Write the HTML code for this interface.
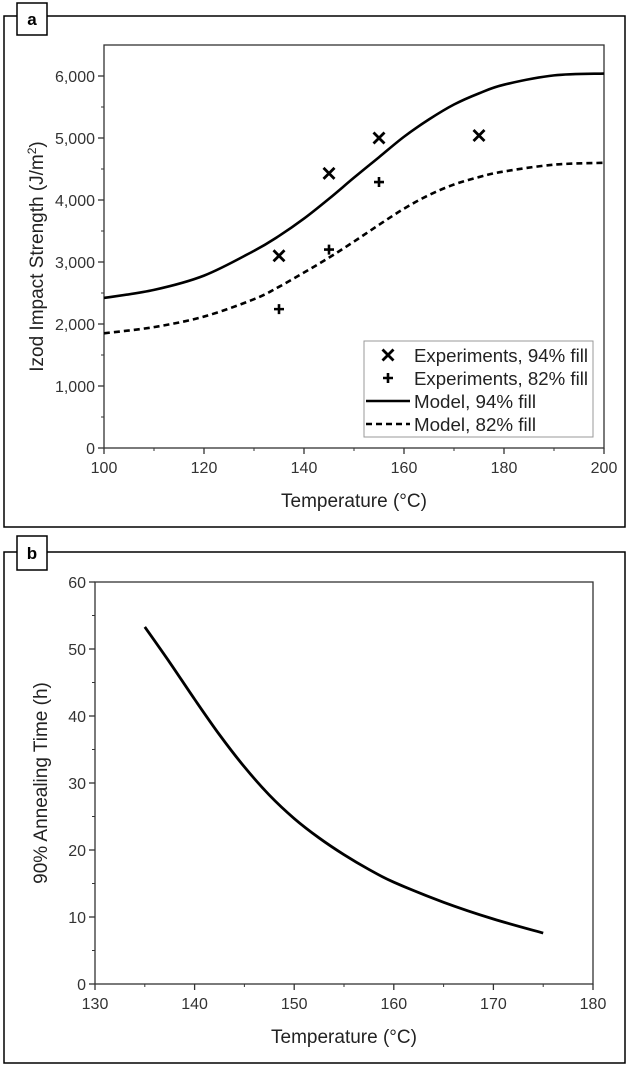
<!DOCTYPE html>
<html><head><meta charset="utf-8"><style>
body{margin:0;background:#fff;}
svg{display:block;font-family:"Liberation Sans",Arial,sans-serif;}
</style></head><body>
<svg width="629" height="1066" viewBox="0 0 629 1066">
<g id="pa"></g>
<g id="pb"></g>
</svg>
<script>
const aX=[100,110,120,130,135,140,145,150,155,160,165,170,175,180,190,200];
const aSolid=[2420,2550,2780,3180,3420,3700,4020,4360,4690,5020,5300,5540,5720,5860,6010,6040];
const aDash=[1850,1950,2120,2400,2600,2830,3070,3330,3600,3860,4080,4250,4370,4460,4570,4600];
const exp94X=[135,145,155,175];
const exp94Y=[3100,4430,5000,5040];
const exp82X=[135,145,155];
const exp82Y=[2240,3200,4290];
const aXTicks=[100,120,140,160,180,200];
const aYTicks=[0,1000,2000,3000,4000,5000,6000];
const aYLabels=["0","1,000","2,000","3,000","4,000","5,000","6,000"];
const bX=[135,137.5,140,142.5,145,147.5,150,152.5,155,157.5,160,165,170,175];
const bY=[53.3,48,42.5,37.2,32.4,28.2,24.7,21.8,19.3,17.1,15.2,12.2,9.7,7.6];
const bXTicks=[130,140,150,160,170,180];
const bYTicks=[0,10,20,30,40,50,60];

const NS="http://www.w3.org/2000/svg";
function mk(p,t,a,txt){const e=document.createElementNS(NS,t);for(const k in a)e.setAttribute(k,a[k]);if(txt!==undefined)e.textContent=txt;p.appendChild(e);return e;}
function smooth(pts){let d="M"+pts[0][0]+","+pts[0][1];for(let i=0;i<pts.length-1;i++){const p0=pts[i-1]||pts[i],p1=pts[i],p2=pts[i+1],p3=pts[i+2]||p2;const c1=[p1[0]+(p2[0]-p0[0])/6,p1[1]+(p2[1]-p0[1])/6],c2=[p2[0]-(p3[0]-p1[0])/6,p2[1]-(p3[1]-p1[1])/6];d+=" C"+c1+" "+c2+" "+p2;}return d;}

function frame(g,box,lab,labBox){
 const o=mk(g,'rect',{x:box[0],y:box[1],width:box[2],height:box[3],fill:'none',stroke:'#000','stroke-width':1.5});
 
 const r=mk(g,'rect',{x:labBox[0],y:labBox[1],width:labBox[2],height:labBox[3],fill:'#fff',stroke:'#000','stroke-width':1.5});
 
 const t=mk(g,'text',{x:labBox[0]+labBox[2]/2,y:labBox[1]+labBox[3]/2+6,'text-anchor':'middle','font-size':17,'font-weight':'bold'},lab);
 
}
function axes(g,L,R,T,B,xs,ys,xt,yt,ylab,xminor,yminor){
 const pr=mk(g,'rect',{x:L,y:T,width:R-L,height:B-T,fill:'none',stroke:'#333','stroke-width':1.3});
 
 xminor.forEach(v=>{const l=mk(g,'line',{x1:xs(v),x2:xs(v),y1:B,y2:B+3,stroke:'#333'});});
 yminor.forEach(v=>{const l=mk(g,'line',{x1:L-3,x2:L,y1:ys(v),y2:ys(v),stroke:'#333'});});
 xt.forEach(v=>{const l=mk(g,'line',{x1:xs(v),x2:xs(v),y1:B,y2:B+6,stroke:'#333','stroke-width':1.3});
  const t=mk(g,'text',{x:xs(v),y:B+25,'text-anchor':'middle','font-size':16,fill:'#333'},String(v));});
 yt.forEach((v,i)=>{const l=mk(g,'line',{x1:L-6,x2:L,y1:ys(v),y2:ys(v),stroke:'#333','stroke-width':1.3});
  const t=mk(g,'text',{x:L-9,y:ys(v)+6,'text-anchor':'end','font-size':16,fill:'#333'},ylab?ylab[i]:String(v));});
 const xt2=mk(g,'text',{x:(L+R)/2,y:B+59,'text-anchor':'middle','font-size':19,fill:'#222'},'Temperature (°C)');
 
}

// Panel A
const ga=document.getElementById('pa');
frame(ga,[4,16,621,511],'a',[17,3,30,32]);
const aL=104,aR=604,aT=45,aB=448;
const axs=v=>aL+(v-100)/100*(aR-aL), ays=v=>aB-v/6500*(aB-aT);
const xm=[];for(let v=110;v<200;v+=20)xm.push(v);
const ym=[];for(let v=500;v<6500;v+=1000)ym.push(v);
axes(ga,aL,aR,aT,aB,axs,ays,aXTicks,aYTicks,aYLabels,xm,ym);
const yta=mk(ga,'text',{transform:'translate(43,'+((aT+aB)/2+10)+') rotate(-90)','text-anchor':'middle','font-size':19,fill:'#222'});

yta.innerHTML='Izod Impact Strength (J/m<tspan dy="-7" font-size="12">2</tspan><tspan dy="7">)</tspan>';
const ps=mk(ga,'path',{d:smooth(aX.map((x,i)=>[axs(x),ays(aSolid[i])])),fill:'none',stroke:'#000','stroke-width':2.6});

const pd=mk(ga,'path',{d:smooth(aX.map((x,i)=>[axs(x),ays(aDash[i])])),fill:'none',stroke:'#000','stroke-width':2.6,'stroke-dasharray':'6,4'});

function xmark(g,cx,cy,s){return mk(g,'path',{d:`M${cx-s},${cy-s}L${cx+s},${cy+s}M${cx-s},${cy+s}L${cx+s},${cy-s}`,stroke:'#000','stroke-width':2.8});}
function pmark(g,cx,cy,s){return mk(g,'path',{d:`M${cx-s},${cy}L${cx+s},${cy}M${cx},${cy-s}L${cx},${cy+s}`,stroke:'#000','stroke-width':2.6});}
exp94X.forEach((x,i)=>{const e=xmark(ga,axs(x),ays(exp94Y[i]),5.5);});
exp82X.forEach((x,i)=>{const e=pmark(ga,axs(x),ays(exp82Y[i]),5);});
const lg=mk(ga,'g',{});
mk(lg,'rect',{x:364,y:341,width:229,height:96,fill:'#fff',stroke:'#999','stroke-width':1});
const items=['Experiments, 94% fill','Experiments, 82% fill','Model, 94% fill','Model, 82% fill'];
items.forEach((s,i)=>{const y=355+i*23;
 if(i==0)xmark(lg,388,y,5.5);if(i==1)pmark(lg,388,y,5);
 if(i==2)mk(lg,'line',{x1:366,x2:410,y1:y,y2:y,stroke:'#000','stroke-width':2.6});
 if(i==3)mk(lg,'line',{x1:366,x2:410,y1:y,y2:y,stroke:'#000','stroke-width':2.6,'stroke-dasharray':'6,4'});
 const t=mk(lg,'text',{x:414,y:y+7,'font-size':18,fill:'#222',textLength:s.length>16?174:122,lengthAdjust:'spacingAndGlyphs'},s);});

// Panel B
const gb=document.getElementById('pb');
frame(gb,[4,552,621,511],'b',[17,536,30,34]);
const bL=95,bR=593,bT=582,bB=984;
const bxs=v=>bL+(v-130)/50*(bR-bL), bys=v=>bB-v/60*(bB-bT);
const bxm=[];for(let v=135;v<180;v+=10)bxm.push(v);
const bym=[];for(let v=5;v<60;v+=10)bym.push(v);
axes(gb,bL,bR,bT,bB,bxs,bys,bXTicks,bYTicks,null,bxm,bym);
const ytb=mk(gb,'text',{transform:'translate(47,'+((bT+bB)/2)+') rotate(-90)','text-anchor':'middle','font-size':19,fill:'#222'},'90% Annealing Time (h)');

const pb=mk(gb,'path',{d:smooth(bX.map((x,i)=>[bxs(x),bys(bY[i])])),fill:'none',stroke:'#000','stroke-width':2.8});

</script>
</body></html>
